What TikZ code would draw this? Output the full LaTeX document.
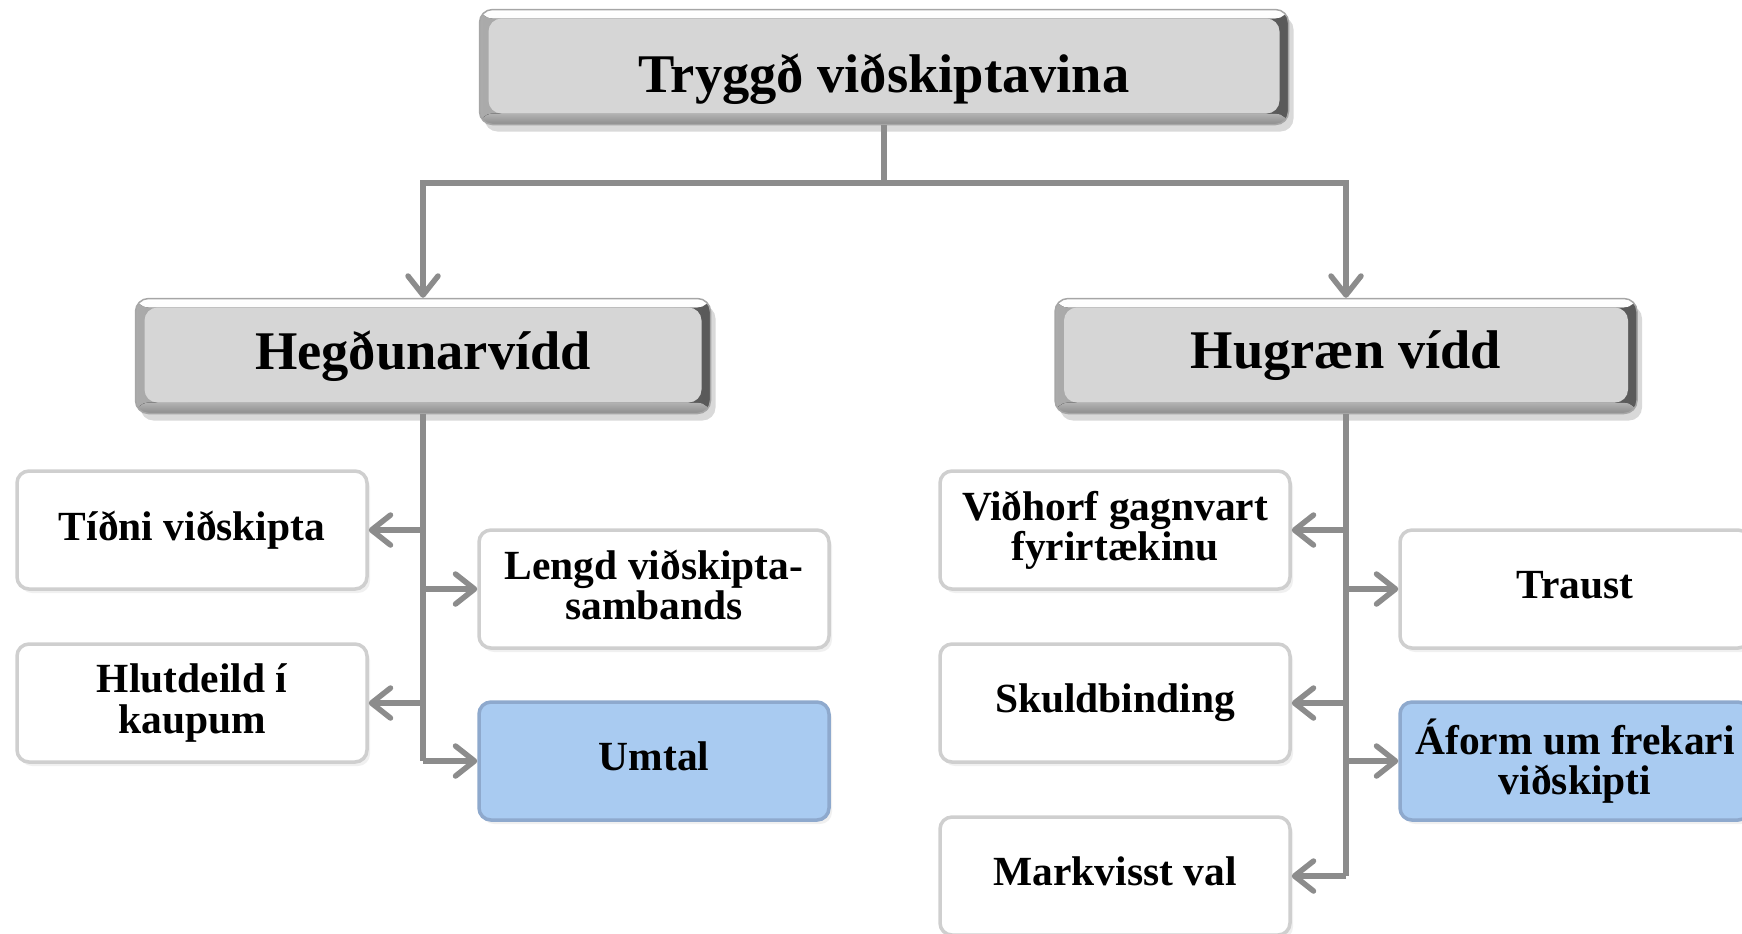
\documentclass[tikz,border=0pt]{standalone}
\usepackage{fontspec}
\setmainfont{Liberation Serif}
\usetikzlibrary{arrows.meta}
\usetikzlibrary{shadows}
\definecolor{linegray}{HTML}{8C8C8C}
\definecolor{boxblue}{HTML}{A9CBF1}
\definecolor{blueedge}{HTML}{8EA9CD}
\definecolor{boxedge}{HTML}{CFCFCF}

\begin{document}
\begin{tikzpicture}[x=0.1mm, y=-0.1mm,
  hdr/.style={rounded corners=1.3mm, minimum height=11.5mm,
    left color=black!33, right color=black!65, draw=black!35, line width=0.15mm,
    drop shadow={opacity=0.3, shadow xshift=0.5mm, shadow yshift=-0.7mm},
    path picture={
      \fill[top color=white, bottom color=black!12] (path picture bounding box.north west)
        rectangle ([yshift=-0.9mm]path picture bounding box.north east);
      \fill[top color=black!30, bottom color=black!45] ([yshift=1.1mm]path picture bounding box.south west)
        rectangle (path picture bounding box.south east);
      \fill[black!16] ([xshift=0.9mm,yshift=1.1mm]path picture bounding box.south west)
        rectangle ([xshift=-0.9mm,yshift=-0.9mm]path picture bounding box.north east);},
    font=\fontsize{15.5}{18}\selectfont\bfseries},
  leaf/.style={rounded corners=1.2mm, minimum width=35mm, minimum height=11.8mm,
    align=center, fill=white, draw=boxedge, line width=0.35mm,
    drop shadow={opacity=0.12, shadow xshift=0.3mm, shadow yshift=-0.4mm},
    execute at end node={\vphantom{gp}},
    font=\fontsize{11.8}{11.5}\selectfont\bfseries},
  pick/.style={leaf, fill=boxblue, draw=blueedge},
  link/.style={draw=linegray, line width=0.55mm},
  arr/.style={link, -{Straight Barb[length=1.9mm, width=3mm, round]}}]

\useasboundingbox (0,0) rectangle (1742,933);

\node (TOP) [hdr, minimum width=80.9mm, text height=18pt] at (884,67) {Tryggð viðskiptavina};
\node (HEG) [hdr, minimum width=57.5mm] at (423,356) {Hegðunarvídd};
\node (HUG) [hdr, minimum width=58.2mm] at (1346,356) {Hugræn vídd};

\node (TIDNI) [leaf] at (192,530) {Tíðni viðskipta};
\node (LENGD) [leaf] at (654,589) {Lengd viðskipta-\\sambands};
\node (HLUT) [leaf] at (192,703) {Hlutdeild í\\kaupum};
\node (UMTAL) [pick] at (654,761) {Umtal};

\node (VIDH) [leaf] at (1115,530) {Viðhorf gagnvart\\fyrirtækinu};
\node (TRAUST) [leaf] at (1575,589) {Traust};
\node (SKULD) [leaf] at (1115,703) {Skuldbinding};
\node (AFORM) [pick] at (1575,761) {Áform um frekari\\viðskipti};
\node (MARK) [leaf] at (1115,876) {Markvisst val};

\coordinate (J) at (884,183);
\draw[link] (TOP.south) -- (J);
\draw[arr] (J) -| (HEG.north);
\draw[arr] (J) -| (HUG.north);

\draw[link] (HEG.south) -- (HEG.south |- UMTAL.west);
\foreach \b in {TIDNI, HLUT} \draw[arr] (HEG.south |- \b.east) -- (\b.east);
\foreach \b in {LENGD, UMTAL} \draw[arr] (HEG.south |- \b.west) -- (\b.west);

\draw[link] (HUG.south) -- (HUG.south |- MARK.east);
\foreach \b in {VIDH, SKULD, MARK} \draw[arr] (HUG.south |- \b.east) -- (\b.east);
\foreach \b in {TRAUST, AFORM} \draw[arr] (HUG.south |- \b.west) -- (\b.west);

\end{tikzpicture}
\end{document}
